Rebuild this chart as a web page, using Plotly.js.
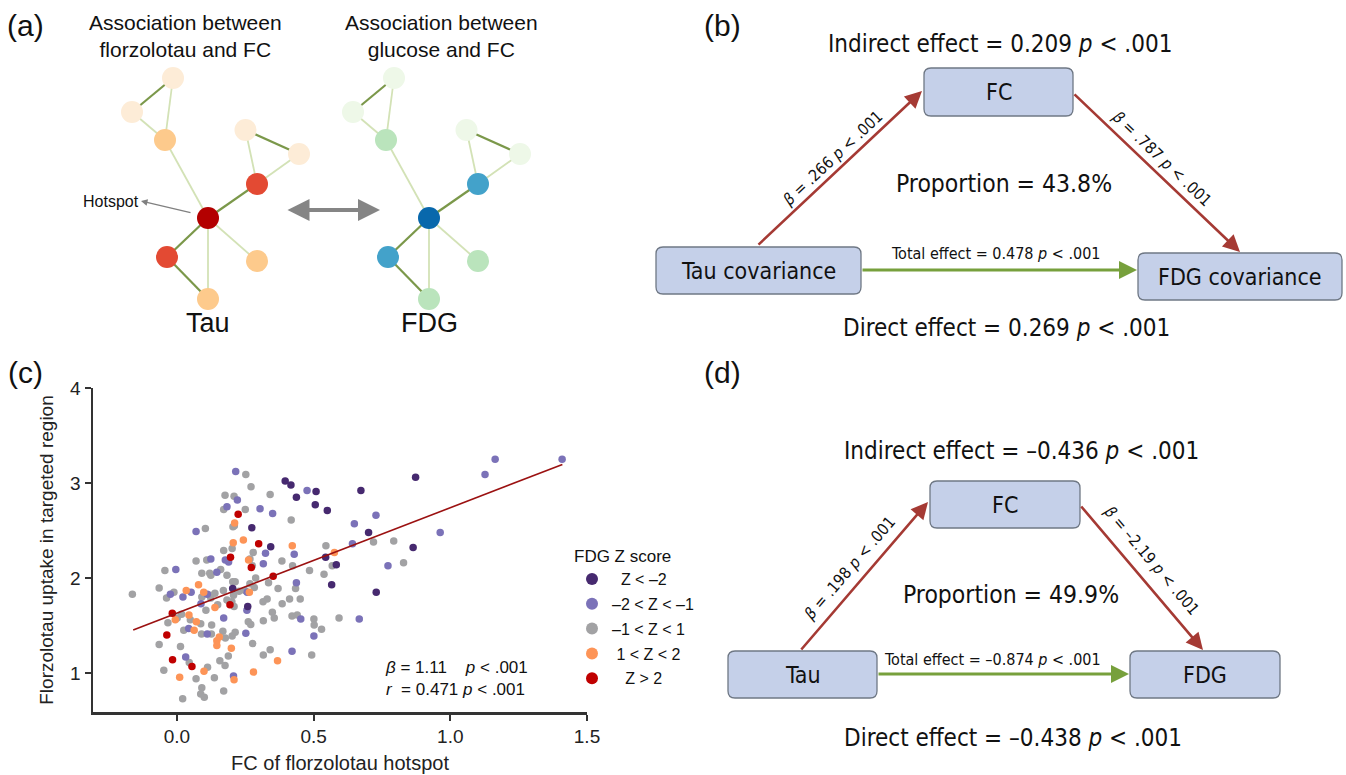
<!DOCTYPE html>
<html>
<head>
<meta charset="utf-8">
<script src="https://cdn.plot.ly/plotly-3.0.1.min.js"></script>
<style>html,body{margin:0;padding:0;background:#fff}#chart{width:1346px;height:775px}</style>
</head>
<body>
<div id="chart"></div>
<script>
// ---------------- Panel (c) data: FC of hotspot (x) vs florzolotau uptake (y), by FDG Z score ----------------
const groupNames = ['\u00a0\u00a0Z < \u20132', '\u20132 < Z < \u20131', '\u20131 < Z < 1', '\u00a01 < Z < 2', '\u00a0\u00a0\u00a0Z > 2'];
const groupColors = ['#46296f', '#7b72b8', '#a2a2a4', '#fd9457', '#c00000'];

const xZlt2 = [0.204,0.274,0.343,0.396,0.417,0.437,0.509,0.506,0.55,0.259,0.544,0.583,0.566,0.873,0.673,0.701,0.864,0.729];
const yZlt2 = [1.89,2.53,2.33,3.02,2.98,2.85,2.91,2.77,2.71,1.70,2.22,2.14,1.93,3.06,2.92,2.48,2.32,1.85];

const xZm2m1 = [-0.004,-0.024,0.022,0.052,0.07,0.088,0.043,0.111,0.111,0.146,0.124,0.177,0.189,0.221,0.183,0.215,0.304,0.35,0.476,0.429,0.324,0.316,0.257,0.437,0.256,0.252,0.421,0.453,0.501,0.032,0.207,0.171,1.409,1.164,1.127,0.728,0.649,0.963,0.642,0.772,0.667];
const yZm2m1 = [2.09,1.83,1.80,1.85,2.49,1.73,1.47,1.41,1.83,2.06,2.20,2.19,2.17,2.82,2.75,3.12,2.73,2.68,2.92,2.25,2.26,2.15,1.85,1.95,1.66,1.42,1.23,1.57,1.39,1.17,0.97,1.58,3.25,3.25,3.09,2.66,2.57,2.48,2.36,2.13,1.57];

const xZm1p1 = [-0.163,-0.065,-0.044,-0.038,-0.011,0.07,0.104,0.091,0.106,0.001,0.017,-0.033,-0.065,0.013,0.049,0.025,0.087,0.09,0.127,0.149,0.124,0.139,0.12,0.124,0.12,0.16,0.109,0.171,0.183,0.17,0.204,0.213,0.183,0.201,0.209,0.202,0.205,0.21,0.176,0.209,0.171,0.252,0.271,0.25,0.341,0.418,0.279,0.267,0.276,0.288,0.267,0.249,0.283,0.335,0.37,0.384,0.423,0.485,0.434,0.451,0.412,0.385,0.33,0.315,0.349,0.356,0.316,0.261,0.27,0.277,0.316,0.341,0.421,0.44,0.501,0.502,0.529,0.493,0.545,0.538,0.593,0.568,-0.048,0.045,0.07,0.112,0.137,0.091,0.087,0.1,0.021,0.171,0.176,0.157,0.188,0.177,0.168,0.126,0.202,0.213,0.091,0.227,0.719,0.793,0.829,0.207];
const yZm1p1 = [1.83,1.895,2.08,1.79,1.85,2.18,2.52,2.05,1.66,1.58,1.62,1.53,1.30,1.28,1.56,1.45,1.52,1.41,1.505,1.72,1.79,1.84,1.82,2.03,2.05,2.09,2.19,2.29,2.03,1.87,1.96,1.96,1.77,1.75,1.70,2.31,2.54,2.55,2.87,2.86,2.72,3.09,2.96,2.72,2.88,2.61,2.27,2.20,2.13,2.00,1.94,1.87,1.90,1.95,1.89,2.18,2.13,2.08,1.89,1.78,1.78,1.73,1.78,1.75,1.64,1.58,1.55,1.54,1.51,1.31,1.19,1.245,1.60,1.61,1.57,1.505,1.46,1.19,2.34,2.04,1.58,2.13,1.03,1.11,0.94,1.06,0.95,0.845,0.78,0.745,0.73,0.81,1.08,1.13,1.18,1.37,1.44,1.41,1.39,1.43,1.80,1.86,2.38,2.39,2.16,1.82];

const xZp1p2 = [0.034,0.079,0.098,-0.006,0.044,0.063,0.071,0.139,0.206,0.243,0.211,0.422,0.262,0.265,0.368,0.576,0.01,0.099,0.209,0.28,0.199,0.146,0.146,0.155];
const yZp1p2 = [1.87,1.93,1.85,1.56,1.61,1.45,1.54,1.69,2.37,2.40,2.58,2.34,2.19,1.85,1.13,2.27,0.955,1.02,0.93,1.01,1.26,1.34,1.29,1.38];

const xZgt2 = [-0.017,-0.037,0.196,0.194,0.224,0.299,0.272,0.352,-0.016,0.055];
const yZgt2 = [1.63,1.40,2.22,1.72,2.67,2.36,2.11,2.02,1.14,1.07];

// regression fit (beta = 1.11) drawn over the observed x span
const fitX = [-0.16, 1.41];
const fitIntercept = 1.63, fitSlope = 1.11;

const xTicks = [0, 0.5, 1.0, 1.5];
const xTickText = ['0.0', '0.5', '1.0', '1.5'];
const yTicks = [1, 2, 3, 4];

// ---------------- Panel (a): network diagram ----------------
const nodeX = [173,132,165,245.5,299,257,208,167,257,208];
const nodeY = [78,112,140,130,154,184,218,257,261,299];
const tauColors = ['#fdecd7','#fdecd7','#fdca8c','#fdecd7','#fdecd7','#e34a33','#b30000','#e34a33','#fdca8c','#fdca8c'];
const fdgColors = ['#eef8e8','#eef8e8','#bae4bc','#eef8e8','#eef8e8','#43a2ca','#0868ac','#43a2ca','#bae4bc','#bae4bc'];
const strongEdges = [[0,1],[3,4],[5,6],[6,7],[7,9]];
const weakEdges = [[0,2],[1,2],[2,6],[3,5],[4,5],[6,8],[6,9]];
const fdgShift = 221;

// ---------------- Panels (b) and (d): mediation diagrams ----------------
const medB = {
  boxes: {FC:[924,68,1073,116], X:[656,247,861,294], Y:[1138,253,1342,300]},
  labels: {FC:'FC', X:'Tau covariance', Y:'FDG covariance'},
  a: [757,246,922,91], b: [1073,93,1240,252], c: [861,270,1137,270],
  aText: '<i>β</i> = .266 <i>p</i> < .001', aPos:[832,158],
  bText: '<i>β</i> = .787 <i>p</i> < .001', bPos:[1162,158],
  total: 'Total effect = 0.478 <i>p</i> < .001', totalPos:[995,253],
  indirect: 'Indirect effect = 0.209 <i>p</i> < .001', indirectPos:[1000,44],
  prop: 'Proportion = 43.8%', propPos:[1004,183],
  direct: 'Direct effect = 0.269 <i>p</i> < .001', directPos:[1006,328]
};
const medD = {
  boxes: {FC:[930,481,1080,528], X:[728,651,877,698], Y:[1130,651,1280,698]},
  labels: {FC:'FC', X:'Tau', Y:'FDG'},
  a: [800,651,928,502], b: [1080,505,1203,650], c: [877,674,1129,674],
  aText: '<i>β</i> = .198 <i>p</i> < .001', aPos:[849,568],
  bText: '<i>β</i> = \u20132.19 <i>p</i> < .001', bPos:[1152,560],
  total: 'Total effect = \u20130.874 <i>p</i> < .001', totalPos:[992,659],
  indirect: 'Indirect effect = \u20130.436 <i>p</i> < .001', indirectPos:[1021,451],
  prop: 'Proportion = 49.9%', propPos:[1011,594],
  direct: 'Direct effect = \u20130.438 <i>p</i> < .001', directPos:[1013,738]
};

// ---------------- build ----------------
const FONT = 'Liberation Sans, Arial, Helvetica, sans-serif';
const NARROW = 'Liberation Sans Narrow, Arial Narrow, DejaVu Sans Condensed, Liberation Sans, sans-serif';
const W = 1346, H = 775;

const traces = [];
const groupsX = [xZlt2, xZm2m1, xZm1p1, xZp1p2, xZgt2];
const groupsY = [yZlt2, yZm2m1, yZm1p1, yZp1p2, yZgt2];
const drawOrder = [2, 1, 3, 0, 4];
drawOrder.forEach(g => {
  traces.push({
    type: 'scatter', mode: 'markers', x: groupsX[g], y: groupsY[g],
    name: groupNames[g], legendrank: g + 1, legendgroup: 'g' + g,
    marker: {color: groupColors[g], size: 7.5, line: {width: 0}},
    xaxis: 'x', yaxis: 'y', hoverinfo: 'x+y'
  });
});
traces.push({
  type: 'scatter', mode: 'lines', x: fitX, y: fitX.map(v => fitIntercept + fitSlope * v),
  line: {color: '#9b1111', width: 1.6}, showlegend: false, xaxis: 'x', yaxis: 'y', hoverinfo: 'skip'
});

function edgeTrace(edges, shift, color, width) {
  const ex = [], ey = [];
  edges.forEach(([i, j]) => { ex.push(nodeX[i] + shift, nodeX[j] + shift, null); ey.push(nodeY[i], nodeY[j], null); });
  return {type: 'scatter', mode: 'lines', x: ex, y: ey, line: {color: color, width: width},
    xaxis: 'x2', yaxis: 'y2', showlegend: false, hoverinfo: 'skip'};
}
[[0, tauColors], [fdgShift, fdgColors]].forEach(([shift, cols]) => {
  traces.push(edgeTrace(weakEdges, shift, '#d3e2b6', 1.8));
  traces.push(edgeTrace(strongEdges, shift, '#7b984a', 2.2));
  traces.push({type: 'scatter', mode: 'markers', x: nodeX.map(v => v + shift), y: nodeY,
    marker: {color: cols, size: 22, line: {width: 0}}, xaxis: 'x2', yaxis: 'y2', showlegend: false, hoverinfo: 'skip'});
});

function roundRect(b, r) {
  const [x0, y0, x1, y1] = b;
  return `M${x0+r},${y0} L${x1-r},${y0} Q${x1},${y0} ${x1},${y0+r} L${x1},${y1-r} Q${x1},${y1} ${x1-r},${y1} L${x0+r},${y1} Q${x0},${y1} ${x0},${y1-r} L${x0},${y0+r} Q${x0},${y0} ${x0+r},${y0} Z`;
}

const shapes = [];
const annotations = [];
function txt(text, x, y, size, family, extra) {
  annotations.push(Object.assign({text: text, x: x, y: y, xref: 'x2', yref: 'y2', showarrow: false,
    xanchor: 'center', yanchor: 'middle', font: {family: family, size: size, color: '#111'}}, extra || {}));
}
function arrow(seg, color, width, size) {
  annotations.push({x: seg[2], y: seg[3], ax: seg[0], ay: seg[1], xref: 'x2', yref: 'y2', axref: 'x2', ayref: 'y2',
    text: '', showarrow: true, arrowhead: 2, arrowsize: size, arrowwidth: width, arrowcolor: color, standoff: 0, startstandoff: 0});
}

[medB, medD].forEach(m => {
  ['FC', 'X', 'Y'].forEach(k => {
    const b = m.boxes[k];
    shapes.push({type: 'path', path: roundRect(b, 7), xref: 'x2', yref: 'y2',
      fillcolor: '#c5d0e9', line: {color: '#6f7885', width: 1.3}, layer: 'above'});
    txt(m.labels[k], (b[0] + b[2]) / 2, (b[1] + b[3]) / 2, 23, NARROW);
  });
  arrow(m.a, '#a53a34', 2.6, 1.3);
  arrow(m.b, '#a53a34', 2.6, 1.3);
  arrow(m.c, '#77a03c', 3, 1.2);
  const angA = Math.atan2(m.a[3] - m.a[1], m.a[2] - m.a[0]) * 180 / Math.PI;
  const angB = Math.atan2(m.b[3] - m.b[1], m.b[2] - m.b[0]) * 180 / Math.PI;
  txt(m.aText, m.aPos[0], m.aPos[1], 16, NARROW, {textangle: angA});
  txt(m.bText, m.bPos[0], m.bPos[1], 16, NARROW, {textangle: angB});
  txt(m.total, m.totalPos[0], m.totalPos[1], 16, NARROW);
  txt(m.indirect, m.indirectPos[0], m.indirectPos[1], 24, NARROW);
  txt(m.prop, m.propPos[0], m.propPos[1], 24.5, NARROW);
  txt(m.direct, m.directPos[0], m.directPos[1], 24, NARROW);
});

// panel (a) texts and arrows
txt('Association between<br>florzolotau and FC', 185, 36, 21, FONT);
txt('Association between<br>glucose and FC', 441, 36, 21, FONT);
txt('Tau', 208, 323, 27, FONT);
txt('FDG', 429, 323, 27, FONT);
txt('Hotspot', 111, 201, 16, FONT);
annotations.push({x: 141, y: 201, ax: 192, ay: 213, xref: 'x2', yref: 'y2', axref: 'x2', ayref: 'y2', text: '',
  showarrow: true, arrowhead: 2, arrowsize: 1, arrowwidth: 1.3, arrowcolor: '#808080', standoff: 0});
annotations.push({x: 380, y: 210, ax: 286, ay: 210, xref: 'x2', yref: 'y2', axref: 'x2', ayref: 'y2', text: '',
  showarrow: true, arrowhead: 2, arrowside: 'end+start', arrowsize: 1.1, arrowwidth: 4, arrowcolor: '#858585', standoff: 0, startstandoff: 0});

// panel labels
txt('(a)', 25, 25, 30, FONT);
txt('(b)', 722, 25, 30, FONT);
txt('(c)', 25, 372, 30, FONT);
txt('(d)', 722, 372, 30, FONT);

// panel (c) statistics
txt('<i>β</i> = 1.11\u00a0\u00a0\u00a0\u00a0<i>p</i> < .001', 383, 667, 17, FONT, {xanchor: 'left'});
txt('<i>r</i>\u00a0\u00a0= 0.471 <i>p</i> < .001', 384, 689, 17, FONT, {xanchor: 'left'});

const axisFont = {family: FONT, size: 19, color: '#222'};
const layout = {
  width: W, height: H,
  margin: {l: 0, r: 0, t: 0, b: 0, pad: 0},
  paper_bgcolor: '#fff', plot_bgcolor: 'rgba(0,0,0,0)',
  font: {family: FONT, color: '#111'},
  showlegend: true,
  legend: {x: 572 / W, xanchor: 'left', y: 1 - 540 / H, yanchor: 'top',
    title: {text: 'FDG Z score', font: {family: FONT, size: 17, color: '#111'}},
    font: {family: FONT, size: 16, color: '#111'}, itemsizing: 'constant', bgcolor: 'rgba(0,0,0,0)',
    tracegroupgap: 1, traceorder: 'grouped'},
  xaxis: {domain: [93 / W, 587 / W], range: [-0.307, 1.5], anchor: 'y',
    tickvals: xTicks, ticktext: xTickText, ticks: 'outside', ticklen: 6, tickwidth: 2, tickcolor: '#333',
    showline: true, linewidth: 2.5, linecolor: '#333', showgrid: false, zeroline: false, tickfont: axisFont,
    title: {text: 'FC of florzolotau hotspot', font: {family: FONT, size: 20, color: '#222'}, standoff: 10}},
  yaxis: {domain: [1 - 712 / H, 1 - 388 / H], range: [0.59, 4], anchor: 'x',
    tickvals: yTicks, ticks: 'outside', ticklen: 6, tickwidth: 2, tickcolor: '#333',
    showline: true, linewidth: 2.5, linecolor: '#333', showgrid: false, zeroline: false, tickfont: axisFont,
    title: {text: 'Florzolotau uptake in targeted region', font: {family: FONT, size: 19, color: '#222'}, standoff: 12}},
  xaxis2: {domain: [0, 1], range: [0, W], anchor: 'y2', visible: false, fixedrange: true},
  yaxis2: {domain: [0, 1], range: [H, 0], anchor: 'x2', visible: false, fixedrange: true},
  shapes: shapes,
  annotations: annotations
};

Plotly.newPlot('chart', traces, layout, {displayModeBar: false, staticPlot: true});
</script>
</body>
</html>
